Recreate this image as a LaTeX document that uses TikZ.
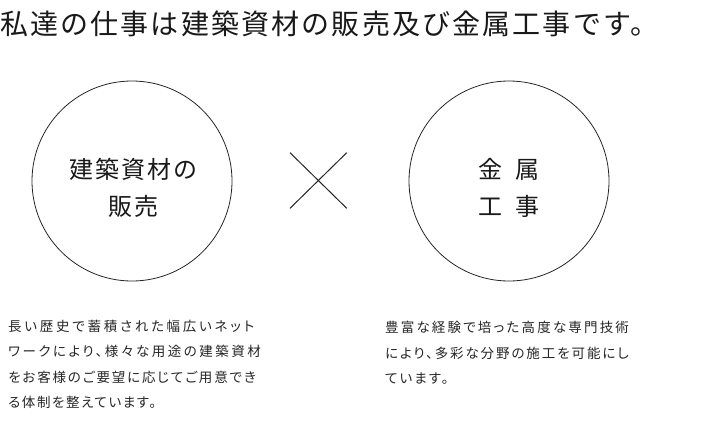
\documentclass[tikz,border=0pt]{standalone}
\usepackage{fontspec}
\newfontfamily\jpfont{Noto Sans CJK JP}
\newfontfamily\jpbody[RawFeature=+palt]{Noto Sans CJK JP}
\tikzset{
  titletext/.style={anchor=west, inner sep=0pt, text=black!90,
    font=\jpfont\addfontfeature{LetterSpace=7.7}\fontsize{28}{28}\selectfont},
  ring/.style={draw=black!85, line width=0.8pt, circle, minimum size=200pt, inner sep=0pt},
  ringtext/.style={anchor=center, inner sep=0pt, text=black!90,
    font=\jpfont\addfontfeature{LetterSpace=8}\fontsize{24}{24}\selectfont},
  bodytext/.style={anchor=west, inner sep=0pt, text=black!85,
    font=\jpbody\addfontfeature{LetterSpace=#1}\fontsize{13.5}{13.5}\selectfont},
  bodytext/.default=18,
  crossline/.style={draw=black!85, line width=1pt},
}
\begin{document}
\begin{tikzpicture}[x=1pt,y=-1pt]
\useasboundingbox (0,0) rectangle (712,421);
\fill[white] (0,0) rectangle (712,421);
\node[titletext] (title) at (0,24) {私達の仕事は建築資材の販売及び金属工事です。};

\node[ring] (left) at (132,181) {};
\node[ring] (right) at (509,181) {};

\node[ringtext] (l1) at (133.5,169) {建築資材の};
\node[ringtext] (l2) at (133.5,206) {販売};
\node[ringtext] (r1) at (509,169) {金\hspace{13pt}属};
\node[ringtext] (r2) at (509,206) {工\hspace{13pt}事};

\coordinate (xa) at (290,152.7);
\coordinate (xb) at (346.7,208.3);
\coordinate (xc) at (346.7,152.7);
\coordinate (xd) at (290,208.3);
\draw[crossline] (xa) -- (xb);
\draw[crossline] (xc) -- (xd);

\node[bodytext=20.3] (a1) at (8,326) {長い歴史で蓄積された幅広いネット};
\node[bodytext=18.4] (a2) at (8,351) {ワークにより、様々な用途の建築資材};
\node[bodytext=13.6] (a3) at (8,377) {をお客様のご要望に応じてご用意でき};
\node[bodytext=12] (a4) at (8,402) {る体制を整えています。};

\node[bodytext=16.1] (b1) at (385,327) {豊富な経験で培った高度な専門技術};
\node[bodytext=14.1] (b2) at (385,353) {により、多彩な分野の施工を可能にし};
\node[bodytext=15] (b3) at (385,379) {ています。};
\end{tikzpicture}
\end{document}
